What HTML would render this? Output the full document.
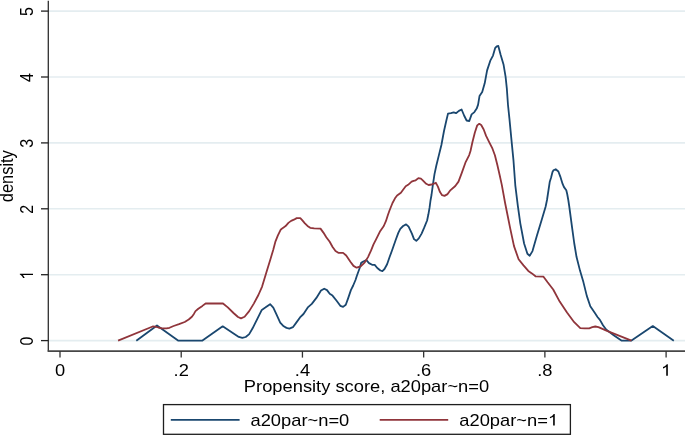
<!DOCTYPE html>
<html><head><meta charset="utf-8"><style>
html,body{margin:0;padding:0;background:#fff;}
body{width:685px;height:435px;overflow:hidden;}
svg{display:block;}
text{font-family:"Liberation Sans",sans-serif;font-size:16px;fill:#000;}
svg{will-change:transform;}
</style></head><body>
<svg width="685" height="435" viewBox="0 0 685 435">
<line x1="49" y1="340.60" x2="685" y2="340.60" stroke="#e4edf0" stroke-width="1.6"/>
<line x1="49" y1="274.70" x2="685" y2="274.70" stroke="#e4edf0" stroke-width="1.6"/>
<line x1="49" y1="208.80" x2="685" y2="208.80" stroke="#e4edf0" stroke-width="1.6"/>
<line x1="49" y1="142.90" x2="685" y2="142.90" stroke="#e4edf0" stroke-width="1.6"/>
<line x1="49" y1="77.00" x2="685" y2="77.00" stroke="#e4edf0" stroke-width="1.6"/>
<line x1="49" y1="11.10" x2="685" y2="11.10" stroke="#e4edf0" stroke-width="1.6"/>
<polyline points="136.3,340.7 157.0,325.5 178.4,340.7 202.1,340.7 222.7,326.3 238.8,336.9 242.3,337.9 245.7,337.0 249.2,334.1 252.6,328.3 257.2,319.1 261.8,309.9 265.3,307.6 270.1,304.2 273.3,307.6 276.8,315.1 280.2,322.6 283.7,326.3 286.5,327.9 289.4,328.6 292.9,327.2 296.3,322.6 300.0,317.4 303.5,314.0 308.1,307.1 311.8,303.9 316.4,297.9 321.0,290.6 324.2,288.7 327.0,290.1 329.7,293.8 332.5,295.6 336.6,300.7 340.3,305.8 343.1,306.9 345.8,304.8 348.1,298.4 350.9,290.1 353.2,285.5 355.5,280.0 356.8,276.0 359.7,268.0 361.2,262.8 363.3,261.5 366.4,260.2 369.0,263.1 372.1,264.8 374.7,264.9 377.3,268.0 380.4,270.5 382.4,271.1 384.5,269.0 387.1,264.3 389.6,257.0 392.1,250.2 395.5,240.5 398.3,232.9 400.3,228.8 403.1,226.0 406.1,224.4 408.6,226.7 411.9,233.6 414.0,239.1 416.3,240.8 418.8,238.4 421.6,233.6 424.3,227.4 427.1,220.5 428.4,214.3 429.6,207.4 430.5,200.5 431.5,195.0 432.8,185.4 434.5,174.1 436.4,165.2 438.9,155.1 441.4,145.0 444.0,131.0 446.3,120.7 448.0,113.6 450.9,113.2 453.7,112.4 456.0,113.2 458.9,110.9 461.6,109.5 464.1,115.5 466.6,120.5 469.3,121.0 471.6,114.4 474.4,112.1 476.7,108.6 478.1,104.6 479.5,96.1 482.2,92.1 484.7,83.3 487.1,70.4 490.3,60.7 493.0,55.6 495.1,48.2 496.7,46.3 498.3,45.9 500.7,55.1 503.6,64.8 505.6,76.8 506.8,88.1 508.0,105.0 509.4,118.4 511.7,142.3 513.5,160.7 515.3,185.3 517.8,205.6 520.3,223.3 524.1,243.5 527.4,253.7 529.7,255.7 532.5,251.1 536.8,235.9 541.8,219.5 545.6,206.8 547.0,200.0 549.7,182.1 551.1,177.5 552.5,172.0 553.4,170.3 555.7,169.2 558.4,171.5 560.3,176.6 562.6,183.9 564.0,187.1 566.3,190.3 567.2,194.0 568.3,200.0 569.2,206.0 572.2,228.4 574.2,243.0 576.5,256.8 580.0,270.6 583.4,282.1 586.8,295.9 590.3,306.2 594.9,313.1 597.5,317.0 599.9,319.9 603.0,325.3 606.1,329.5 613.7,335.2 621.4,340.6 631.5,340.6 652.8,326.1 673.8,340.7" fill="none" stroke="#1a476f" stroke-width="1.8" stroke-linejoin="round" stroke-linecap="butt"/>
<polyline points="118.1,340.7 152.7,326.5 155.2,326.7 158.3,327.5 161.9,328.3 166.5,328.4 169.5,327.8 173.6,326.0 179.0,324.2 184.7,322.0 188.7,319.5 191.9,316.7 193.9,313.9 195.5,311.1 198.3,308.7 202.4,305.9 205.6,303.5 223.0,303.5 227.8,307.4 233.5,313.0 238.0,317.0 241.0,318.4 244.6,316.8 249.2,311.1 253.8,303.6 258.4,295.0 262.1,286.6 266.2,273.1 270.5,258.9 273.2,250.0 275.5,241.3 277.8,235.7 280.6,229.8 282.9,227.9 285.6,226.1 288.4,222.9 291.1,220.9 293.9,219.7 296.7,218.1 300.3,218.1 302.6,220.6 304.9,223.3 307.5,225.9 310.2,227.8 314.2,228.3 320.5,228.6 323.4,232.6 326.3,237.2 329.7,241.8 332.6,247.0 335.5,251.0 338.3,252.8 343.1,252.9 346.2,255.5 350.4,261.7 353.5,265.9 356.6,267.7 360.7,266.4 364.8,262.3 368.0,257.1 371.1,250.4 373.5,244.4 376.2,239.1 380.3,230.9 383.8,226.0 385.9,221.2 387.9,215.0 389.5,210.5 392.5,203.0 395.0,198.3 397.1,195.5 400.9,192.8 402.9,190.0 405.7,186.2 408.1,184.8 411.6,181.7 413.6,180.9 415.7,180.3 418.4,178.1 420.9,178.6 422.8,180.3 426.2,183.8 428.6,185.0 431.7,184.5 435.9,182.8 437.9,186.6 440.0,192.1 442.1,195.2 444.5,195.9 447.6,194.1 450.0,190.7 455.3,186.0 458.5,181.6 461.6,173.4 465.4,162.7 469.2,155.1 470.5,151.0 472.4,142.3 474.8,132.7 477.2,125.4 479.3,123.8 481.2,125.0 483.7,129.5 486.1,135.9 489.3,142.3 492.5,148.7 494.9,155.2 497.3,164.8 499.7,175.2 501.8,184.9 505.1,203.0 510.2,228.4 514.0,246.1 518.6,259.3 523.5,265.4 528.3,270.9 531.9,273.4 535.5,276.3 543.5,276.7 547.6,282.3 553.2,289.5 559.7,301.6 567.0,312.5 574.2,322.2 580.3,328.2 584.6,328.3 589.2,328.3 592.3,327.2 595.3,326.5 598.4,327.2 607.6,331.1 631.5,340.6" fill="none" stroke="#90353b" stroke-width="1.8" stroke-linejoin="round" stroke-linecap="butt"/>
<line x1="48.3" y1="0.8" x2="48.3" y2="351.5" stroke="#2e2e2e" stroke-width="1.3"/>
<line x1="47.7" y1="351.1" x2="685" y2="351.1" stroke="#474747" stroke-width="1.8"/>
<line x1="41" y1="340.60" x2="48.3" y2="340.60" stroke="#222" stroke-width="1.3"/>
<text transform="translate(33,341.10) scale(1.145,1) rotate(-90)" text-anchor="middle">0</text>
<line x1="41" y1="274.70" x2="48.3" y2="274.70" stroke="#222" stroke-width="1.3"/>
<g transform="translate(33,275.20) scale(1.145,1) rotate(-90)"><path transform="translate(-4.449,0) scale(0.0078125,-0.0078125)" d="M763 0L583 0L583 1147Q518 1085 412.5 1023Q307 961 223 930L223 1104Q374 1175 487 1276Q600 1377 647 1472L763 1472Z"/></g>
<line x1="41" y1="208.80" x2="48.3" y2="208.80" stroke="#222" stroke-width="1.3"/>
<text transform="translate(33,209.30) scale(1.145,1) rotate(-90)" text-anchor="middle">2</text>
<line x1="41" y1="142.90" x2="48.3" y2="142.90" stroke="#222" stroke-width="1.3"/>
<text transform="translate(33,143.40) scale(1.145,1) rotate(-90)" text-anchor="middle">3</text>
<line x1="41" y1="77.00" x2="48.3" y2="77.00" stroke="#222" stroke-width="1.3"/>
<text transform="translate(33,77.50) scale(1.145,1) rotate(-90)" text-anchor="middle">4</text>
<line x1="41" y1="11.10" x2="48.3" y2="11.10" stroke="#222" stroke-width="1.3"/>
<text transform="translate(33,11.60) scale(1.145,1) rotate(-90)" text-anchor="middle">5</text>
<line x1="60.00" y1="351" x2="60.00" y2="357.6" stroke="#333" stroke-width="1.3"/>
<text transform="translate(60.00,375.7) scale(1.145,1)" text-anchor="middle">0</text>
<line x1="181.22" y1="351" x2="181.22" y2="357.6" stroke="#333" stroke-width="1.3"/>
<text transform="translate(181.22,375.7) scale(1.145,1)" text-anchor="middle">.2</text>
<line x1="302.44" y1="351" x2="302.44" y2="357.6" stroke="#333" stroke-width="1.3"/>
<text transform="translate(302.44,375.7) scale(1.145,1)" text-anchor="middle">.4</text>
<line x1="423.66" y1="351" x2="423.66" y2="357.6" stroke="#333" stroke-width="1.3"/>
<text transform="translate(423.66,375.7) scale(1.145,1)" text-anchor="middle">.6</text>
<line x1="544.88" y1="351" x2="544.88" y2="357.6" stroke="#333" stroke-width="1.3"/>
<text transform="translate(544.88,375.7) scale(1.145,1)" text-anchor="middle">.8</text>
<line x1="666.10" y1="351" x2="666.10" y2="357.6" stroke="#333" stroke-width="1.3"/>
<g transform="translate(666.10,375.7) scale(1.145,1)"><path transform="translate(-4.449,0) scale(0.0078125,-0.0078125)" d="M763 0L583 0L583 1147Q518 1085 412.5 1023Q307 961 223 930L223 1104Q374 1175 487 1276Q600 1377 647 1472L763 1472Z"/></g>
<text transform="translate(366.5,391.5) scale(1.145,1)" text-anchor="middle">Propensity score, a20par~n=0</text>
<text transform="translate(12.7,176.2) scale(1.145,1) rotate(-90)" text-anchor="middle" style="font-size:16.4px">density</text>
<rect x="163.5" y="404.6" width="406.9" height="29.7" fill="#fff" stroke="#1e1e1e" stroke-width="1.3"/>
<line x1="170.8" y1="419.8" x2="239.6" y2="419.8" stroke="#1a476f" stroke-width="1.8"/>
<text transform="translate(250.5,425.6) scale(1.145,1)">a20par~n=0</text>
<line x1="379.7" y1="419.8" x2="448.2" y2="419.8" stroke="#90353b" stroke-width="1.8"/>
<g transform="translate(459.3,425.6) scale(1.145,1)"><text>a20par~n=</text><path transform="translate(77.406,0) scale(0.0078125,-0.0078125)" d="M763 0L583 0L583 1147Q518 1085 412.5 1023Q307 961 223 930L223 1104Q374 1175 487 1276Q600 1377 647 1472L763 1472Z"/></g>
</svg>
</body></html>
